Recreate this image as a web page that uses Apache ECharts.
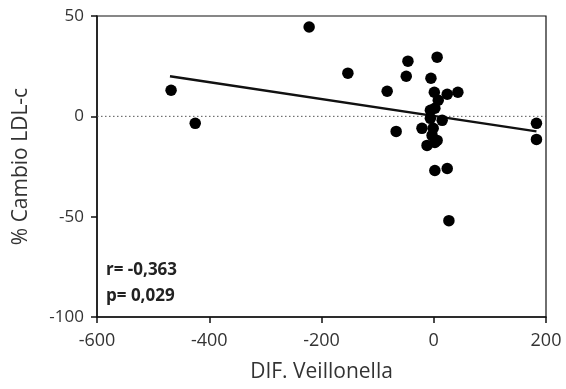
<!DOCTYPE html>
<html>
<head>
<meta charset="utf-8">
<script src="https://cdn.jsdelivr.net/npm/echarts@6/dist/echarts.min.js"></script>
<style>
  html, body { margin: 0; padding: 0; background: #fff; }
  #chart { width: 566px; height: 389px; }
</style>
</head>
<body>
<div id="chart"></div>
<script>
// DIF. Veillonella vs % Cambio LDL-c
const difVeillonella = [-468, -425, -222, -153, -83, -67, -49, -46, -5, 6, 1, 24, 43, 8, -6, 2, 15, -21, -1, -3, 6, -12, 2, 2, 24, 27, 183, 183, -6]
const cambioLdl = [13, -3.5, 44.5, 21.5, 12.5, -7.5, 20, 27.5, 19, 29.5, 12, 11, 12, 8, 3, 4, -2, -6, -6, -9.5, -12, -14.5, -13, -27, -26, -52, -3.5, -11.5, -1]

// regression line endpoints
const fitX = [-470, 183]
const fitY = [20, -7.5]

const xTicks = [-600, -400, -200, 0, 200]
const yTicks = [-100, -50, 0, 50]

const statLines = ['r= -0,363', 'p= 0,029']

const font = '"Open Sans", "Noto Sans", sans-serif'
const ink = '#111'

const chart = echarts.init(document.getElementById('chart'))

chart.setOption({
  animation: false,
  backgroundColor: '#fff',
  grid: {
    left: 97, right: 20, top: 16, bottom: 72,
    show: true,
    borderColor: ink,
    borderWidth: 1.2,
  },
  xAxis: {
    type: 'value',
    min: xTicks[0], max: xTicks[xTicks.length - 1], interval: 200,
    name: 'DIF. Veillonella',
    nameLocation: 'middle',
    nameGap: 45,
    nameTextStyle: { color: '#333', fontSize: 21, fontFamily: font },
    axisLine: { onZero: false, lineStyle: { color: ink, width: 1.5 } },
    axisTick: { show: true, length: 6, lineStyle: { color: ink, width: 1.5 } },
    axisLabel: { color: '#333', fontSize: 18, fontFamily: font, margin: 15 },
    splitLine: { show: false },
  },
  yAxis: {
    type: 'value',
    min: yTicks[0], max: yTicks[yTicks.length - 1], interval: 50,
    name: '% Cambio LDL-c',
    nameLocation: 'middle',
    nameGap: 65,
    nameRotate: 90,
    nameTextStyle: { color: '#333', fontSize: 21, fontFamily: font },
    axisLine: { onZero: false, lineStyle: { color: ink, width: 1.5 } },
    axisTick: { show: true, length: 6, lineStyle: { color: ink, width: 1.5 } },
    axisLabel: { color: '#333', fontSize: 17, fontFamily: font, margin: 13 },
    splitLine: { show: false },
  },
  series: [
    {
      type: 'line',
      data: [[xTicks[0], 0], [xTicks[xTicks.length - 1], 0]],
      symbol: 'none',
      lineStyle: { color: '#555', width: 1, type: [1.5, 2.5] },
      silent: true,
      z: 1,
    },
    {
      type: 'line',
      data: fitX.map((x, i) => [x, fitY[i]]),
      symbol: 'none',
      lineStyle: { color: ink, width: 2.4 },
      silent: true,
      z: 2,
    },
    {
      type: 'scatter',
      data: difVeillonella.map((x, i) => [x, cambioLdl[i]]),
      symbol: 'circle',
      symbolSize: 11.5,
      itemStyle: { color: '#000', opacity: 1 },
      z: 3,
    },
  ],
  graphic: [
    {
      type: 'text',
      left: 106, top: 257,
      style: {
        text: statLines.join('\n'),
        fill: '#222',
        font: 'bold 17px ' + font,
        lineHeight: 26,
      },
    },
  ],
})
</script>
</body>
</html>
